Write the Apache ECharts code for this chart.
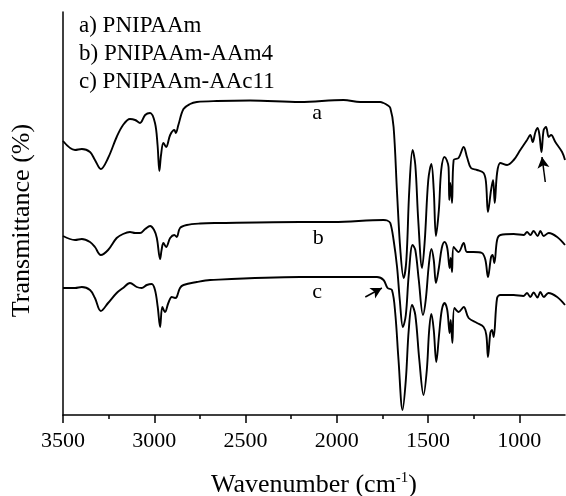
<!DOCTYPE html>
<html><head><meta charset="utf-8">
<script src="https://cdn.jsdelivr.net/npm/echarts@6/dist/echarts.min.js"></script>
<style>html,body{margin:0;padding:0;background:#fff}#c{width:566px;height:496px}</style>
</head><body><div id="c"></div>
<script>
const legendLabels = ['a) PNIPAAm', 'b) PNIPAAm-AAm4', 'c) PNIPAAm-AAc11'];
const curveLetters = ['a', 'b', 'c'];
const majorTicks = [1000, 1500, 2000, 2500, 3000, 3500];
const minorTicks = [1250, 1750, 2250, 2750, 3250];

const aWavenumber = [3500,3434,3397,3352,3325,3293,3253,3206,3171,3133,3105,3078,3050,3023,2996,2982,2972,2963,2950,2935,2913,2890,2882,2868,2840,2804,2767,2657,2475,2201,1963,1872,1790,1762,1744,1724,1707,1689,1670,1652,1634,1619,1603,1585,1570,1554,1533,1518,1499,1482,1469,1457,1441,1428,1410,1398,1388,1384,1378,1369,1360,1333,1305,1287,1265,1232,1196,1183,1172,1155,1144,1135,1122,1104,1067,1031,995,958,940,927,912,900,890,879,867,854,839,826,803,766,750];
const aTransmittance = [274,265,266,263,255,246,257,278,290,296,295,292,300,302,292,270,244,260,272,268,280,285,282,290,306,311,313,314,314.5,313,315,313,313,313,312,310,307,288,222,165,137,155,225,265,250,195,147,175,235,251,225,179,205,245,258,255,248,215,232,212,255,257,268,258,247,245,242,233,203,225,235,212,242,252,250,255,265,275,280,273,283,287,280,263,285,288,278,280,273,263,255];

const bWavenumber = [3500,3434,3397,3352,3325,3293,3253,3206,3171,3133,3105,3078,3050,3023,3001,2986,2968,2960,2950,2935,2913,2890,2877,2859,2822,2749,2657,2201,2018,1744,1724,1707,1689,1670,1655,1638,1622,1606,1585,1570,1551,1528,1513,1496,1482,1469,1457,1441,1425,1410,1395,1382,1376,1369,1360,1333,1305,1287,1251,1205,1186,1172,1155,1147,1137,1122,1104,1031,976,958,940,922,900,885,867,839,793,750];
const bTransmittance = [179,175,176,173,168,160,165,177,181,183,182,182,186,189,185,177,156,165,172,168,177,180,178,187,190,191.5,192,193,193,195,194.5,192,175,148,115,88,100,140,170,165,135,100,115,150,166,155,132,147,167,173,167,147,157,143,168,163,172,163,163,162,155,138,158,160,152,175,180,181,180,183,180,184,179,184,179,182,178,170];

const cWavenumber = [3500,3434,3397,3352,3325,3293,3253,3206,3171,3133,3096,3069,3041,3014,2996,2981,2968,2956,2941,2923,2904,2886,2877,2859,2840,2767,2694,2201,1780,1744,1722,1698,1680,1662,1640,1622,1606,1588,1570,1548,1525,1507,1494,1482,1469,1455,1440,1425,1410,1395,1382,1376,1367,1356,1333,1305,1278,1232,1196,1181,1172,1159,1150,1141,1122,1104,1031,978,958,940,922,901,885,866,841,793,750];
const cTransmittance = [127,127,128,125,117,104,112,122,127,132,128,127,130,131,125,108,88,108,103,112,118,117,118,127,130,133,135,138,138,135,127,125,102,55,5,35,85,110,100,55,20,45,85,101,85,53,80,105,112,105,82,95,72,107,103,108,97,92,88,80,58,82,85,78,117,120,120,119,122,118,122.5,117.5,123,118,122,118,110];

// letter label anchor [wavenumber, transmittance]
const letterWavenumber = [2108, 2102, 2108];
const letterTransmittance = [302, 177, 123];
// arrows: [tailWn, tailT, headWn, headT]
const arrowA = [858, 233, 876, 258];
const arrowC = [1844, 118, 1753, 127];

const FONT = '"Liberation Serif", "Times New Roman", serif';
const wns = [aWavenumber, bWavenumber, cWavenumber];
const ts = [aTransmittance, bTransmittance, cTransmittance];
const arrows = [arrowA, null, arrowC];

const series = [0,1,2].map(i => {
  const s = {
    type: 'line',
    name: legendLabels[i],
    data: wns[i].map((w, k) => [w, ts[i][k]]),
    showSymbol: false,
    smooth: 0.35,
    lineStyle: { color: '#000', width: 1.9 },
    itemStyle: { color: '#000' },
    xAxisIndex: 0,
    markPoint: {
      symbol: 'circle', symbolSize: 0,
      label: { show: true, position: 'inside', color: '#000', fontSize: 22, fontFamily: FONT, formatter: curveLetters[i] },
      data: [{ coord: [letterWavenumber[i], letterTransmittance[i]] }]
    }
  };
  if (arrows[i]) {
    const r = arrows[i];
    s.markLine = {
      symbol: ['none', 'arrow'], symbolSize: [9, 11],
      label: { show: false },
      lineStyle: { color: '#000', width: 1.5, type: 'solid' },
      data: [[{ coord: [r[0], r[1]] }, { coord: [r[2], r[3]] }]]
    };
  }
  return s;
});

const chart = echarts.init(document.getElementById('c'), null, { renderer: 'canvas' });
chart.setOption({
  animation: false,
  backgroundColor: '#fff',
  grid: { left: 63, right: 1, top: 12, bottom: 81, containLabel: false, outerBoundsMode: 'none' },
  legend: {
    data: legendLabels, orient: 'vertical', left: 69, top: 9,
    icon: 'none', itemWidth: 0, itemHeight: 23, itemGap: 5, selectedMode: false,
    textStyle: { color: '#000', fontSize: 23, fontFamily: FONT }
  },
  xAxis: [{
    type: 'value', inverse: true, min: 750, max: 3500,
    name: 'Wavenumber (cm{sup|-1})', nameLocation: 'middle', nameGap: 56,
    nameTextStyle: { color: '#000', fontSize: 26, fontFamily: FONT,
      rich: { sup: { fontSize: 15, fontFamily: FONT, color: '#000', padding: [0, 0, 14, 0] } } },
    axisLine: { show: true, lineStyle: { color: '#000', width: 1.5 } },
    axisTick: { show: true, inside: false, length: 8, customValues: majorTicks, lineStyle: { color: '#000', width: 1.5 } },
    axisLabel: { color: '#000', fontSize: 22, fontFamily: FONT, margin: 15, customValues: majorTicks,
      formatter: v => String(v) },
    splitLine: { show: false }
  }, {
    type: 'value', inverse: true, min: 750, max: 3500, position: 'bottom',
    axisLine: { show: false },
    axisTick: { show: true, length: 4, customValues: minorTicks, lineStyle: { color: '#000', width: 1.5 } },
    axisLabel: { show: false },
    splitLine: { show: false }
  }],
  yAxis: {
    type: 'value', min: 0, max: 403,
    name: 'Transmittance (%)', nameLocation: 'middle', nameGap: 28, nameRotate: 90,
    nameTextStyle: { color: '#000', fontSize: 26, fontFamily: FONT, padding: [0, 14, 0, 0] },
    axisLine: { show: true, lineStyle: { color: '#000', width: 1.5 } },
    axisTick: { show: false }, axisLabel: { show: false }, splitLine: { show: false }
  },
  series: series
});
</script></body></html>
